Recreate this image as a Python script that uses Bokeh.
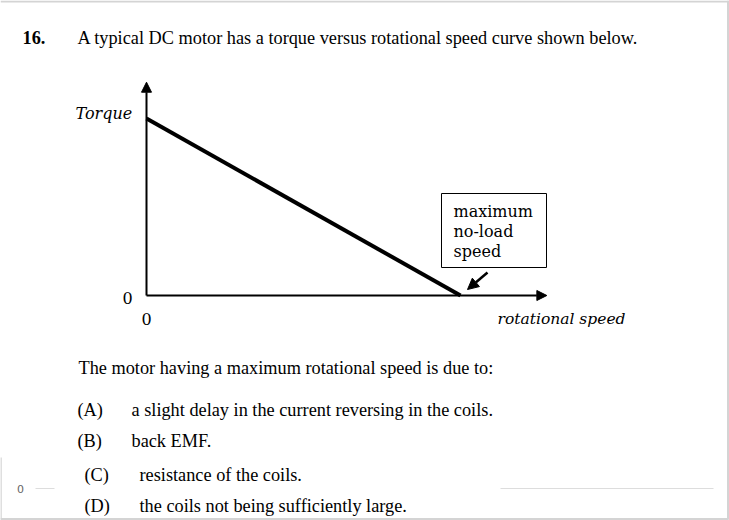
from bokeh.plotting import figure
from bokeh.models import Range1d, Label, Arrow, NormalHead
from bokeh.embed import file_html
from bokeh.resources import INLINE

# ---- data (relative units) ----
speed = [0, 100]          # rotational speed: 0 .. maximum no-load speed
torque = [100, 0]         # torque: stall torque .. 0
axis_speed_max = [127.5]  # extent of the speed axis arrow
axis_torque_max = [120.5] # extent of the torque axis arrow

# ---- page-space mapping (page pixel -> data units) ----
OX, OY = 146.0, 295.0          # origin on page
SX = (460.0 - OX) / 100.0      # px per speed unit
SY = (OY - 118.0) / 100.0      # px per torque unit
W, H = 729, 520
MARGIN = 0


def fx(px):
    return (px - OX) / SX


def fy(py):
    return (OY - py) / SY


p = figure(width=W, height=H, output_backend="svg", toolbar_location=None,
           x_range=Range1d(fx(MARGIN), fx(MARGIN + W)),
           y_range=Range1d(fy(MARGIN + H), fy(MARGIN)),
           min_border=0, min_border_left=0, min_border_right=0,
           min_border_top=0, min_border_bottom=0)
p.axis.visible = False
p.grid.visible = False
p.outline_line_color = None
p.background_fill_color = "white"
p.border_fill_color = "white"

SERIF = "Liberation Serif"
SERIF2 = "DejaVu Serif"
MAIN = "18.3px"


def txt(x, y, s, size=MAIN, font=SERIF, style="normal", align="left", color="black"):
    p.add_layout(Label(x=fx(x), y=fy(y), text=s, text_font=font, text_font_size=size,
                       text_font_style=style, text_align=align, text_baseline="middle",
                       text_color=color))


# page frame (screenshot border)
frame_col = "#d4d4d4"
p.line(x=[fx(0), fx(729)], y=[fy(1), fy(1)], line_color=frame_col, line_width=2)
p.line(x=[fx(727.5), fx(727.5)], y=[fy(0), fy(519)], line_color=frame_col, line_width=2)
p.line(x=[fx(0), fx(728)], y=[fy(518.5), fy(518.5)], line_color=frame_col, line_width=2)
p.line(x=[fx(0.5), fx(0.5)], y=[fy(457), fy(519)], line_color=frame_col, line_width=1.5)

# faint gridline artefact near the bottom
p.line(x=[fx(35), fx(54)], y=[fy(488), fy(488)], line_color="#dddddd", line_width=1)
p.line(x=[fx(500), fx(713)], y=[fy(488), fy(488)], line_color="#dddddd", line_width=1)
txt(20, 488, "0", size="11px", font="DejaVu Sans", color="#666666", align="center")

# axes with arrows
p.add_layout(Arrow(x_start=0, y_start=0, x_end=0, y_end=axis_torque_max[0],
                   line_width=2, line_color="black",
                   end=NormalHead(size=10, fill_color="black", line_color="black", line_width=1)))
p.add_layout(Arrow(x_start=0, y_start=0, x_end=axis_speed_max[0], y_end=0,
                   line_width=2, line_color="black",
                   end=NormalHead(size=10, fill_color="black", line_color="black", line_width=1)))

# torque-speed line
p.line(x=speed, y=torque, line_color="black", line_width=4)

# annotation box
p.quad(left=[fx(441)], right=[fx(546)], top=[fy(193)], bottom=[fy(267)],
       fill_color="white", line_color="black", line_width=1)
txt(453, 211, "maximum", size="16px", font=SERIF2)
txt(453, 231, "no-load", size="16px", font=SERIF2)
txt(453, 251, "speed", size="16px", font=SERIF2)
p.add_layout(Arrow(x_start=fx(487), y_start=fy(272), x_end=fx(467), y_end=fy(289),
                   line_width=2.5, line_color="black",
                   end=NormalHead(size=11, fill_color="black", line_color="black", line_width=1)))

# axis labels
txt(75, 113, "Torque", size="16px", font=SERIF2, style="italic")
txt(497, 318, "rotational speed", size="15.5px", font=SERIF2, style="italic")
txt(127, 297, "0", size="16px", font=SERIF2, align="center")
txt(146, 318, "0", size="16px", font=SERIF2, align="center")

# question text
txt(22, 37, "16.", style="bold")
txt(77, 37, "A typical DC motor has a torque versus rotational speed curve shown below.")
txt(78, 367, "The motor having a maximum rotational speed is due to:")
txt(77, 409, "(A)")
txt(131, 409, "a slight delay in the current reversing in the coils.")
txt(77, 440, "(B)")
txt(131, 440, "back EMF.")
txt(84, 474, "(C)")
txt(139, 474, "resistance of the coils.")
txt(84, 505, "(D)")
txt(139, 505, "the coils not being sufficiently large.")

open("out.html", "w").write(file_html(p, INLINE))
